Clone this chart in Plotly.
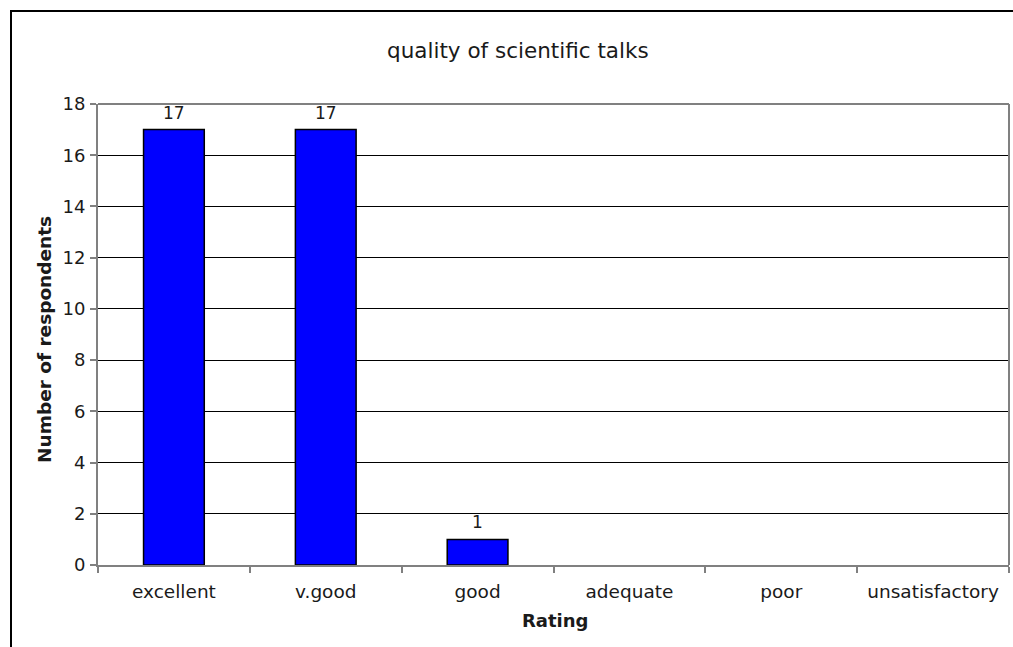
import plotly.graph_objects as go

# Survey results: quality of scientific talks
ratings = ["excellent", "v.good", "good", "adequate", "poor", "unsatisfactory"]
respondents = [17, 17, 1, 0, 0, 0]
y_ticks = [0, 2, 4, 6, 8, 10, 12, 14, 16, 18]

FONT = "DejaVu Sans"
W, H = 1013, 647
L, R, T, B = 98, 4, 104, 82
pw = W - L - R
ph = H - T - B

# no outline for empty categories
outline_widths = [1.5 if v > 0 else 0 for v in respondents]

fig = go.Figure(
    go.Bar(
        x=ratings,
        y=respondents,
        marker=dict(color="#0000FF", line=dict(color="#000000", width=outline_widths)),
        width=0.4,
    )
)

# value labels above the non-empty bars
for cat, val in zip(ratings, respondents):
    if val > 0:
        fig.add_annotation(x=cat, y=val, text=str(val), showarrow=False,
                           xanchor="center", yanchor="bottom", yshift=5,
                           font=dict(family=FONT, size=17, color="#1a1a1a"))

fig.update_layout(
    width=W,
    height=H,
    margin=dict(l=L, r=R, t=T, b=B),
    paper_bgcolor="white",
    plot_bgcolor="white",
    showlegend=False,
    font=dict(family=FONT, size=18, color="#000000"),
)

fig.update_xaxes(
    type="category",
    tickson="boundaries",
    ticks="outside",
    ticklen=6,
    tickcolor="#808080",
    tickwidth=1.5,
    showline=True,
    linecolor="#808080",
    linewidth=2,
    showgrid=False,
    tickfont=dict(family=FONT, size=18.5, color="#1a1a1a"),
    ticklabelstandoff=9,
)

fig.update_yaxes(
    range=[0, 18],
    tickvals=y_ticks,
    ticks="outside",
    ticklen=6,
    tickcolor="#808080",
    tickwidth=1.5,
    showline=True,
    linecolor="#808080",
    linewidth=2,
    showgrid=True,
    gridcolor="#000000",
    gridwidth=1,
    zeroline=False,
    tickfont=dict(family=FONT, size=18, color="#1a1a1a"),
    ticklabelstandoff=1,
)

# plot-area border on top and right (grey)
fig.add_shape(type="line", xref="paper", yref="paper", x0=0, x1=1, y0=1, y1=1,
              line=dict(color="#808080", width=2))
fig.add_shape(type="line", xref="paper", yref="paper", x0=1, x1=1, y0=0, y1=1,
              line=dict(color="#808080", width=2))

# outer chart frame
fig.add_shape(type="rect", xref="paper", yref="paper",
              x0=(11 - L) / pw, x1=(W + 20 - L) / pw,
              y0=-(H + 20 - T - ph) / ph, y1=1 + (T - 11) / ph,
              line=dict(color="#000000", width=2), layer="below")

def px_x(x):
    return (x - L) / pw

def px_y(y):
    return 1 - (y - T) / ph

fig.add_annotation(text="quality of scientific talks", xref="paper", yref="paper",
                   x=px_x(518), y=px_y(50), showarrow=False,
                   font=dict(family=FONT, size=21.5, color="#1a1a1a"),
                   xanchor="center", yanchor="middle")
fig.add_annotation(text="<b>Rating</b>", xref="paper", yref="paper",
                   x=px_x(555), y=px_y(620), showarrow=False,
                   font=dict(family=FONT, size=18, color="#1a1a1a"),
                   xanchor="center", yanchor="middle")
fig.add_annotation(text="<b>Number of respondents</b>", xref="paper", yref="paper",
                   x=px_x(44), y=px_y(340), showarrow=False, textangle=-90,
                   font=dict(family=FONT, size=18.5, color="#1a1a1a"),
                   xanchor="center", yanchor="middle")

fig.write_html("out.html")
